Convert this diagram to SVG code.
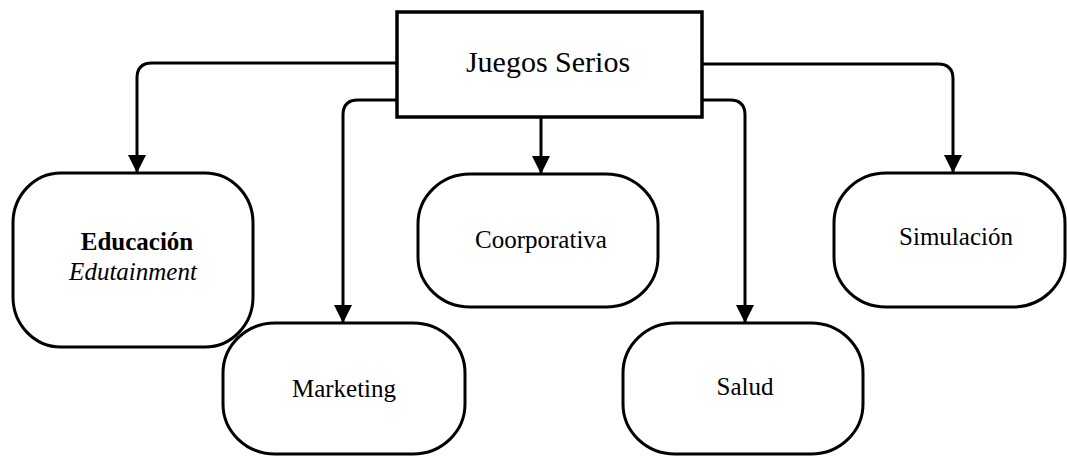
<svg xmlns="http://www.w3.org/2000/svg" width="1067" height="456" viewBox="0 0 1067 456">
  <style>
    .node { fill: #ffffff; stroke: #000000; stroke-width: 3; }
    .root { fill: #ffffff; stroke: #000000; stroke-width: 3.5; }
    .edge { fill: none; stroke: #000000; stroke-width: 3; }
    .label { font-family: "Liberation Serif", "Times New Roman", serif; font-size: 25px; fill: #000000; text-anchor: middle; }
  </style>
  <defs>
    <marker id="arrow" markerUnits="userSpaceOnUse" markerWidth="18" markerHeight="20" refX="18" refY="9" orient="auto">
      <polygon points="0,0 18,9 0,18" fill="#000000"/>
    </marker>
  </defs>
  <rect width="1067" height="456" fill="#ffffff"/>

  <!-- connectors from the central box -->
  <g id="connectors">
    <path class="edge" d="M397,63 H152 Q137,63 137,78 V173" marker-end="url(#arrow)"/>
    <path class="edge" d="M397,100 H358 Q343,100 343,115 V323" marker-end="url(#arrow)"/>
    <path class="edge" d="M541,117 V174" marker-end="url(#arrow)"/>
    <path class="edge" d="M702,100 H730 Q745,100 745,115 V323" marker-end="url(#arrow)"/>
    <path class="edge" d="M702,64 H938 Q953,64 953,79 V173" marker-end="url(#arrow)"/>
  </g>

  <g id="juegos-serios">
    <rect class="root" x="397" y="12" width="305" height="105"/>
    <text class="label" x="548" y="72" style="font-size:30px">Juegos Serios</text>
  </g>

  <g id="educacion">
    <rect class="node" x="13" y="173" width="240" height="174" rx="48" ry="50"/>
    <text class="label" x="137" y="250" font-weight="bold">Educación</text>
    <text class="label" x="133" y="280" font-style="italic">Edutainment</text>
  </g>

  <g id="marketing">
    <rect class="node" x="223" y="323" width="242" height="131" rx="52" ry="50"/>
    <text class="label" x="344" y="397">Marketing</text>
  </g>

  <g id="coorporativa">
    <rect class="node" x="418" y="174" width="240" height="133" rx="52" ry="50"/>
    <text class="label" x="541" y="248">Coorporativa</text>
  </g>

  <g id="salud">
    <rect class="node" x="623" y="323" width="240" height="131" rx="52" ry="50"/>
    <text class="label" x="745" y="395">Salud</text>
  </g>

  <g id="simulacion">
    <rect class="node" x="834" y="173" width="231" height="134" rx="52" ry="50"/>
    <text class="label" x="956" y="245">Simulación</text>
  </g>
</svg>
